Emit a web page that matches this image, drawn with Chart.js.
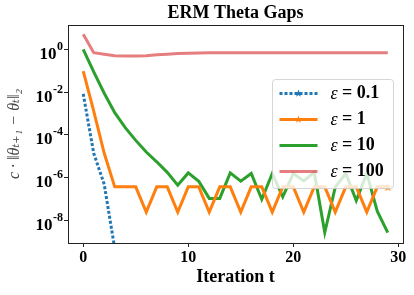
<!DOCTYPE html>
<html lang="en">
<head>
  <meta charset="UTF-8">
  <title>ERM Theta Gaps</title>
  <script src="https://cdn.jsdelivr.net/npm/chart.js"></script>
  <style>
    body {
      margin: 0;
      background: #fff;
    }
    #gapChart {
      display: block;
    }
  </style>
</head>
<body>
  <canvas id="gapChart" width="414" height="295"></canvas>

  <script>
    // values (log scale)
    const iterations = [0, 1, 2, 3, 4, 5, 6, 7, 8, 9, 10, 11, 12, 13, 14, 15, 16, 17, 18, 19, 20, 21, 22, 23, 24, 25, 26, 27, 28, 29];
    const epsLabels = ['0.1', '1', '10', '100'];
    const gapEps01 = [8.3e-3, 1.4e-5, 5e-7, 5e-10, null, null, null, null, null, null, null, null, null, null, null,
                      null, null, null, null, null, null, null, null, null, null, null, null, null, null, null];
    const gapEps1 = [0.095, 1.3e-3, 1.4e-5, 3.8e-7, 3.8e-7, 3.8e-7, 2.5e-8, 3.8e-7, 3.8e-7, 2.5e-8,
                     3.8e-7, 3.8e-7, 2.5e-8, 3.8e-7, 3.8e-7, 2.5e-8, 3.8e-7, 3.8e-7, 2.5e-8, 3.8e-7,
                     3.8e-7, 2.5e-8, 3.8e-7, 3.8e-7, 2.5e-8, 3.8e-7, 3.8e-7, 2.5e-8, 3.8e-7, 3.8e-7];
    const gapEps10 = [1.0, 0.089, 8.9e-3, 1.1e-3, 2.2e-4, 5.6e-5, 1.6e-5, 5.6e-6, 1.8e-6, 4.5e-7,
                      1.7e-6, 6.9e-7, 1.1e-7, 1.1e-7, 1.7e-6, 7e-7, 1.6e-6, 1e-7, 1.6e-6, 1.3e-7,
                      1.6e-6, 7.2e-7, 1.8e-6, 2.8e-9, 3.7e-7, 1.6e-6, 8.7e-8, 1.6e-6, 2.8e-8, 2.8e-9];
    const gapEps100 = [5.0, 0.69, 0.59, 0.5, 0.49, 0.49, 0.5, 0.56, 0.59, 0.63,
                       0.65, 0.67, 0.69, 0.69, 0.69, 0.69, 0.69, 0.69, 0.69, 0.69,
                       0.69, 0.69, 0.69, 0.69, 0.69, 0.69, 0.69, 0.69, 0.69, 0.69];
    const xTicks = [0, 10, 20, 30];
    const yTicks = [1e-8, 1e-6, 1e-4, 1e-2, 1];
    const yTickBase = '10';
    const yTickExps = ['-8', '-6', '-4', '-2', '0'];

    const serif = "'Liberation Serif', 'DejaVu Serif', serif";
    const lastIdx = iterations.length - 1;

    function starPath(ctx, cx, cy, r) {
      ctx.beginPath();
      for (let k = 0; k < 10; k++) {
        const rr = k % 2 ? r * 0.4 : r;
        const ang = -Math.PI / 2 + k * Math.PI / 5;
        const px = cx + rr * Math.cos(ang);
        const py = cy + rr * Math.sin(ang);
        if (k === 0) ctx.moveTo(px, py); else ctx.lineTo(px, py);
      }
      ctx.closePath();
    }

    function starImage(color) {
      const c = document.createElement('canvas');
      c.width = 10; c.height = 10;
      const g = c.getContext('2d');
      g.fillStyle = color;
      starPath(g, 5, 5.5, 4.5);
      g.fill();
      return c;
    }

    function toPoints(arr) {
      return iterations.map((x, i) => ({ x: x, y: arr[i] }));
    }

    // frame, 10^n tick labels and legend drawn like matplotlib
    const axesExtras = {
      id: 'axesExtras',
      afterDraw(chart) {
        const ctx = chart.ctx;
        const a = chart.chartArea;
        const yScale = chart.scales.y;
        ctx.save();
        ctx.strokeStyle = '#222';
        ctx.lineWidth = 1;
        ctx.strokeRect(a.left + 0.5, a.top + 0.5, a.right - a.left, a.bottom - a.top);

        // y tick labels with superscript exponents
        ctx.fillStyle = '#000';
        ctx.textBaseline = 'alphabetic';
        yTicks.forEach((v, k) => {
          const py = yScale.getPixelForValue(v);
          const xr = a.left - 5;
          ctx.font = 'bold 12px ' + serif;
          const ew = ctx.measureText(yTickExps[k]).width;
          ctx.textAlign = 'left';
          ctx.fillText(yTickExps[k], xr - ew, py + 0.5);
          ctx.font = 'bold 17px ' + serif;
          ctx.textAlign = 'right';
          ctx.fillText(yTickBase, xr - ew - 0.5, py + 9.5);
        });

        const bx = a.right - 130.5, by = a.top + 54.5, bw = 121, bh = 109;
        ctx.beginPath();
        ctx.roundRect(bx, by, bw, bh, 3);
        ctx.fillStyle = 'rgba(255,255,255,0.8)';
        ctx.fill();
        ctx.strokeStyle = 'rgba(204,204,204,0.8)';
        ctx.stroke();

        chart.data.datasets.forEach((ds, i) => {
          const y = by + 14 + i * 26;
          ctx.beginPath();
          ctx.setLineDash(ds.borderDash || []);
          ctx.strokeStyle = ds.borderColor;
          ctx.lineWidth = 3;
          ctx.moveTo(bx + 7, y);
          ctx.lineTo(bx + 45, y);
          ctx.stroke();
          ctx.setLineDash([]);
          if (i < 2) {
            ctx.fillStyle = ds.borderColor;
            starPath(ctx, bx + 26, y, 4);
            ctx.fill();
          }
          ctx.fillStyle = '#000';
          ctx.textBaseline = 'middle';
          ctx.textAlign = 'left';
          ctx.font = 'italic 18px ' + serif;
          ctx.fillText('ε', bx + 58, y + 1);
          const w = ctx.measureText('ε').width;
          ctx.font = 'bold 18px ' + serif;
          ctx.fillText(' = ' + epsLabels[i], bx + 58 + w, y);
        });
        ctx.restore();
      }
    };

    document.addEventListener('DOMContentLoaded', function() {
      const ctx = document.getElementById('gapChart').getContext('2d');

      new Chart(ctx, {
        type: 'line',
        data: {
          datasets: [{
            label: 'ε = ' + epsLabels[0],
            data: toPoints(gapEps01),
            borderColor: '#1f77b4',
            borderWidth: 3,
            borderDash: [3, 2],
            pointRadius: 0
          }, {
            label: 'ε = ' + epsLabels[1],
            data: toPoints(gapEps1),
            borderColor: '#ff7f0e',
            backgroundColor: '#ff7f0e',
            borderWidth: 3,
            pointStyle: (c) => c.dataIndex === lastIdx ? starImage('#ff7f0e') : 'circle',
            pointRadius: (c) => c.dataIndex === lastIdx ? 4 : 0
          }, {
            label: 'ε = ' + epsLabels[2],
            data: toPoints(gapEps10),
            borderColor: '#2ca02c',
            borderWidth: 3,
            pointRadius: 0
          }, {
            label: 'ε = ' + epsLabels[3],
            data: toPoints(gapEps100),
            borderColor: 'rgba(214,39,40,0.6)',
            borderWidth: 3,
            pointRadius: 0
          }]
        },
        options: {
          responsive: false,
          animation: false,
          events: [],
          clip: 0,
          layout: {
            padding: { top: 0, right: 11, bottom: 0, left: 0 }
          },
          plugins: {
            legend: { display: false },
            tooltip: { enabled: false },
            title: {
              display: true,
              fullSize: false,
              text: 'ERM Theta Gaps',
              color: '#000',
              font: { family: serif, size: 18, weight: 'bold', lineHeight: 1.2 },
              padding: { top: 3, bottom: 0.4 }
            }
          },
          scales: {
            x: {
              type: 'linear',
              min: -1.45,
              max: 30.45,
              afterBuildTicks: (s) => { s.ticks = xTicks.map(v => ({ value: v })); },
              afterFit: (s) => { s.height = 52; },
              grid: {
                drawOnChartArea: false,
                drawTicks: true,
                tickLength: 4,
                color: '#222'
              },
              border: { display: false },
              ticks: {
                color: '#000',
                padding: 1,
                maxRotation: 0,
                font: { family: serif, size: 16, weight: 'bold' }
              },
              title: {
                display: true,
                text: 'Iteration t',
                color: '#000',
                font: { family: serif, size: 18, weight: 'bold', lineHeight: 1.2 },
                padding: { top: 0, bottom: 6.5 }
              }
            },
            y: {
              type: 'logarithmic',
              min: 9.1e-10,
              max: 13.6,
              afterBuildTicks: (s) => { s.ticks = yTicks.map(v => ({ value: v })); },
              afterFit: (s) => { s.width = 68; },
              grid: {
                drawOnChartArea: false,
                drawTicks: true,
                tickLength: 4,
                color: '#222'
              },
              border: { display: false },
              ticks: { display: false },
              title: {
                display: true,
                text: 'c · ‖θₜ₊₁ − θₜ‖₂',
                color: '#444',
                font: { family: serif, size: 16, style: 'italic', lineHeight: 1.2 },
                padding: { top: 5, bottom: 0 }
              }
            }
          }
        },
        plugins: [axesExtras]
      });
    });
  </script>
</body>
</html>
